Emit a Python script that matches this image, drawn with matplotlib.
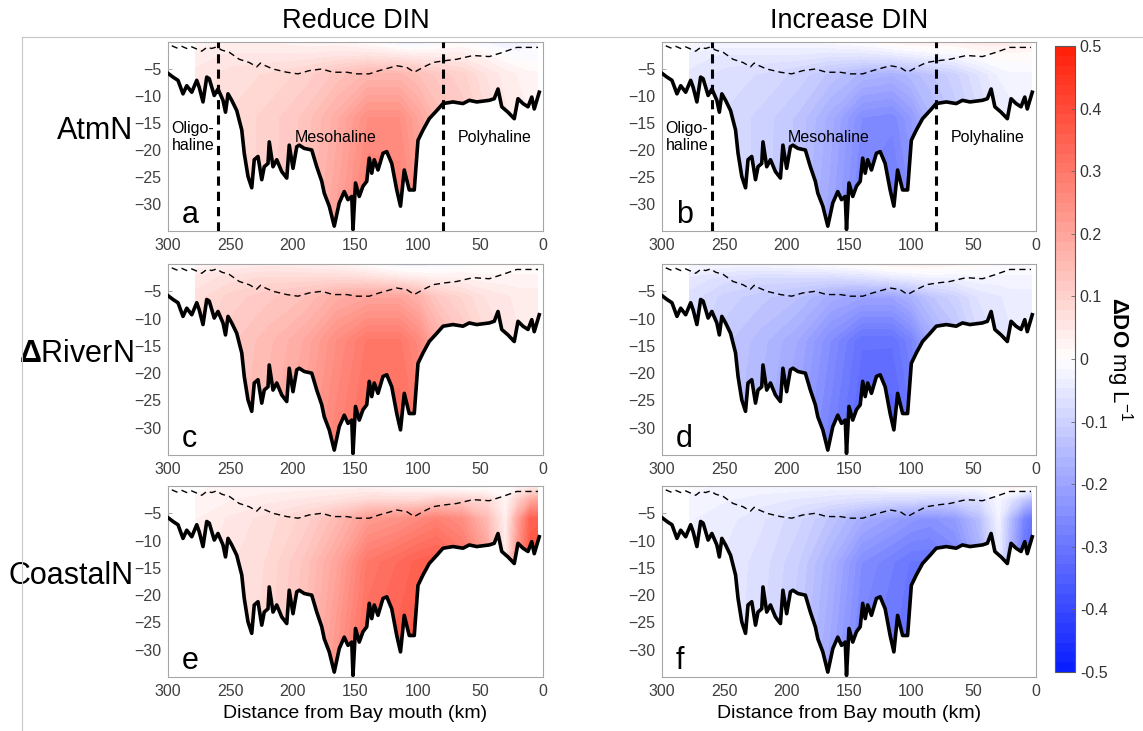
import numpy as np
import matplotlib
matplotlib.use("Agg")
import matplotlib.pyplot as plt
from matplotlib.colors import LinearSegmentedColormap, Normalize
from matplotlib.cm import ScalarMappable
from matplotlib.lines import Line2D

plt.rcParams['font.family'] = ['Liberation Sans', 'DejaVu Sans']
plt.rcParams['mathtext.fontset'] = 'custom'
plt.rcParams['mathtext.rm'] = 'Liberation Sans'
plt.rcParams['mathtext.bf'] = 'Liberation Sans:bold'

# bathymetry along the channel (km from mouth, m)
bathy_km = [300, 296, 292, 288, 285, 281, 277, 275, 272, 269, 267, 263, 260, 256, 254, 252,
            249, 245, 241, 239, 236, 233, 231, 228, 225, 223, 220, 219, 216, 213, 209, 205,
            203, 200, 197, 195, 191, 185, 181, 177, 175, 171, 167, 163, 159, 156, 153, 152,
            150, 147, 144, 141, 139, 137, 135, 132, 128, 125, 121, 117, 114, 111, 107, 103,
            100, 96, 91, 85, 80, 72, 64, 59, 53, 43, 39, 36, 33, 28, 23, 20, 16, 12, 9, 7, 3]
bathy_m = [-5.8, -6.5, -7.1, -9.6, -8.1, -9.3, -7.1, -8.4, -11.1, -6.5, -6.8, -9.9, -8.7, -10.8,
           -13.0, -9.6, -10.8, -12.7, -16.3, -20.6, -24.9, -27.0, -21.8, -21.2, -25.5, -23.1,
           -22.5, -18.5, -23.1, -21.8, -24.0, -25.2, -19.1, -23.4, -19.4, -19.1, -19.7, -20.0,
           -23.1, -25.8, -28.0, -30.4, -34.1, -29.8, -27.7, -29.2, -28.6, -34.7, -26.1, -28.6,
           -26.7, -25.8, -21.5, -24.3, -21.8, -23.7, -20.6, -20.3, -22.5, -27.4, -30.4, -23.7,
           -27.4, -27.4, -18.2, -16.3, -14.2, -12.7, -11.4, -11.1, -11.4, -10.8, -11.1, -10.8,
           -10.5, -8.7, -12.0, -13.0, -14.2, -10.5, -11.4, -12.0, -10.2, -12.4, -9.3]

# pycnocline depth
pyc_km = [297, 293, 289, 285, 281, 277, 273, 269, 265, 261, 257, 251, 243, 235, 229, 226,
          223, 216, 205, 196, 187, 177, 168, 157, 149, 139, 131, 117, 109, 103, 96, 88, 80,
          69, 56, 43, 32, 21, 4]
pyc_m = [-0.7, -1.1, -0.8, -1.2, -0.9, -1.3, -1.7, -1.0, -1.2, -0.9, -1.5, -1.9, -3.2, -3.8,
         -4.6, -3.9, -4.3, -5.0, -5.6, -5.9, -5.3, -5.0, -5.6, -5.6, -5.9, -5.9, -5.3, -4.4,
         -4.7, -5.6, -4.7, -3.8, -3.5, -3.2, -2.5, -2.7, -1.9, -1.0, -1.0]

# ΔDO grid: stations along channel x depth levels
grid_km = [278, 250, 220, 190, 165, 140, 115, 100, 85, 65, 45, 30, 20, 10, 4]
grid_m = [0, -2.5, -6, -14, -35]

ddo_atm_reduce = [
    [0.02, 0.03, 0.03, 0.02, 0.02, 0.00, -0.03, -0.03, -0.02, 0.00, -0.02, -0.03, -0.03, -0.02, -0.02],
    [0.04, 0.05, 0.05, 0.05, 0.06, 0.06, 0.05, 0.04, 0.04, 0.04, 0.02, 0.00, -0.01, -0.01, -0.01],
    [0.05, 0.07, 0.08, 0.10, 0.13, 0.16, 0.16, 0.14, 0.12, 0.10, 0.06, 0.04, 0.03, 0.02, 0.02],
    [0.05, 0.08, 0.10, 0.13, 0.18, 0.25, 0.25, 0.20, 0.15, 0.12, 0.08, 0.05, 0.04, 0.03, 0.03],
    [0.05, 0.08, 0.10, 0.14, 0.21, 0.30, 0.29, 0.24, 0.20, 0.15, 0.10, 0.06, 0.05, 0.04, 0.04],
]
ddo_atm_increase = [
    [-0.01, -0.02, -0.02, -0.02, -0.01, 0.00, 0.02, 0.03, 0.03, 0.03, 0.04, 0.04, 0.04, 0.03, 0.03],
    [-0.04, -0.05, -0.05, -0.05, -0.06, -0.06, -0.05, -0.04, -0.03, -0.02, 0.00, 0.01, 0.01, 0.01, 0.01],
    [-0.05, -0.07, -0.08, -0.10, -0.13, -0.16, -0.17, -0.15, -0.13, -0.10, -0.06, -0.03, -0.02, -0.02, -0.02],
    [-0.06, -0.08, -0.10, -0.13, -0.18, -0.25, -0.26, -0.22, -0.16, -0.12, -0.08, -0.05, -0.04, -0.04, -0.04],
    [-0.06, -0.08, -0.10, -0.14, -0.20, -0.28, -0.30, -0.26, -0.20, -0.15, -0.10, -0.06, -0.05, -0.05, -0.05],
]
ddo_river_reduce = [
    [0.02, 0.03, 0.04, 0.03, 0.02, 0.00, -0.03, -0.03, -0.02, -0.01, 0.00, 0.00, 0.00, 0.00, 0.00],
    [0.05, 0.07, 0.08, 0.08, 0.08, 0.07, 0.05, 0.04, 0.03, 0.03, 0.02, 0.02, 0.02, 0.02, 0.02],
    [0.07, 0.10, 0.12, 0.14, 0.18, 0.20, 0.20, 0.17, 0.12, 0.09, 0.06, 0.05, 0.04, 0.04, 0.04],
    [0.08, 0.12, 0.15, 0.19, 0.25, 0.30, 0.30, 0.26, 0.18, 0.13, 0.08, 0.06, 0.05, 0.05, 0.05],
    [0.08, 0.13, 0.17, 0.22, 0.28, 0.33, 0.33, 0.30, 0.22, 0.16, 0.10, 0.07, 0.06, 0.06, 0.06],
]
ddo_river_increase = [
    [-0.01, -0.02, -0.02, -0.01, 0.00, 0.01, 0.03, 0.03, 0.03, 0.02, 0.01, 0.00, 0.00, 0.00, 0.00],
    [-0.05, -0.07, -0.08, -0.08, -0.08, -0.07, -0.05, -0.04, -0.03, -0.03, -0.02, -0.02, -0.02, -0.02, -0.02],
    [-0.07, -0.10, -0.12, -0.14, -0.18, -0.20, -0.20, -0.17, -0.13, -0.10, -0.06, -0.05, -0.04, -0.04, -0.04],
    [-0.08, -0.12, -0.15, -0.19, -0.25, -0.31, -0.31, -0.27, -0.19, -0.14, -0.08, -0.06, -0.05, -0.05, -0.05],
    [-0.08, -0.13, -0.17, -0.22, -0.28, -0.34, -0.35, -0.31, -0.23, -0.17, -0.10, -0.07, -0.06, -0.06, -0.06],
]
ddo_coastal_reduce = [
    [0.01, 0.02, 0.02, 0.02, 0.02, 0.02, 0.00, 0.00, -0.01, -0.02, -0.02, 0.00, 0.02, 0.03, 0.03],
    [0.02, 0.03, 0.04, 0.05, 0.06, 0.08, 0.08, 0.08, 0.10, 0.10, 0.08, 0.02, 0.10, 0.18, 0.20],
    [0.03, 0.05, 0.07, 0.10, 0.15, 0.22, 0.24, 0.26, 0.28, 0.25, 0.15, 0.03, 0.20, 0.35, 0.35],
    [0.03, 0.06, 0.08, 0.13, 0.20, 0.30, 0.33, 0.35, 0.36, 0.32, 0.22, 0.04, 0.25, 0.38, 0.40],
    [0.03, 0.06, 0.09, 0.15, 0.24, 0.34, 0.36, 0.38, 0.38, 0.35, 0.26, 0.05, 0.26, 0.40, 0.40],
]
ddo_coastal_increase = [
    [-0.01, -0.02, -0.02, -0.02, -0.02, -0.02, 0.00, 0.00, 0.00, 0.00, 0.00, 0.01, 0.03, 0.03, 0.02],
    [-0.02, -0.03, -0.04, -0.05, -0.06, -0.07, -0.08, -0.08, -0.09, -0.09, -0.07, -0.02, -0.06, -0.12, -0.15],
    [-0.03, -0.04, -0.06, -0.09, -0.13, -0.18, -0.21, -0.23, -0.24, -0.22, -0.14, -0.03, -0.15, -0.27, -0.30],
    [-0.03, -0.05, -0.07, -0.11, -0.17, -0.25, -0.28, -0.30, -0.30, -0.27, -0.18, -0.04, -0.18, -0.31, -0.35],
    [-0.03, -0.05, -0.08, -0.13, -0.20, -0.28, -0.30, -0.32, -0.32, -0.30, -0.20, -0.05, -0.20, -0.33, -0.35],
]

row_names = ['AtmN', r'$\mathbf{\Delta}$RiverN', 'CoastalN']
col_titles = ['Reduce DIN', 'Increase DIN']
panel_letters = [['a', 'b'], ['c', 'd'], ['e', 'f']]
fields = [[ddo_atm_reduce, ddo_atm_increase],
          [ddo_river_reduce, ddo_river_increase],
          [ddo_coastal_reduce, ddo_coastal_increase]]

zone_edges_km = [260, 80]
x_ticks = [300, 250, 200, 150, 100, 50, 0]
y_ticks = [-30, -25, -20, -15, -10, -5]
cb_ticks = [-0.5, -0.4, -0.3, -0.2, -0.1, 0, 0.1, 0.2, 0.3, 0.4, 0.5]

cmap = LinearSegmentedColormap.from_list(
    'bwr_do', [(0.04, 0.12, 1.0), (1, 1, 1), (1.0, 0.13, 0.04)], N=64)
norm = Normalize(-0.5, 0.5)
levels = np.linspace(-0.5, 0.5, 65)

W, H = 1143, 731
fig = plt.figure(figsize=(W / 100, H / 100), dpi=100)


def px_axes(l, t, r, b):
    return fig.add_axes([l / W, 1 - b / H, (r - l) / W, (b - t) / H])


# frame lines around the figure
fig.add_artist(Line2D([22 / W, 22 / W], [0, 1 - 37 / H], transform=fig.transFigure,
                      color='0.78', lw=0.8))
fig.add_artist(Line2D([22 / W, 1], [1 - 37 / H, 1 - 37 / H], transform=fig.transFigure,
                      color='0.78', lw=0.8))

col_x = [(168, 543), (662, 1036)]
row_y = [(42, 231), (264, 455), (486, 677)]
X, Y = np.meshgrid(grid_km, grid_m)

for i in range(3):
    for j in range(2):
        ax = px_axes(col_x[j][0], row_y[i][0], col_x[j][1], row_y[i][1])
        Z = np.array(fields[i][j])
        ax.contourf(X, Y, Z, levels=levels, cmap=cmap, norm=norm, zorder=1)
        # hide everything below the channel bottom
        ax.fill_between(bathy_km, bathy_m, -40, color='white', lw=0, zorder=2)
        ax.plot(bathy_km, bathy_m, color='black', lw=2.6, zorder=4,
                solid_joinstyle='round')
        ax.plot(pyc_km, pyc_m, color='black', lw=1.0, dashes=(4.5, 3), zorder=4)
        ax.set_xlim(300, 0)
        ax.set_ylim(-35, 0)
        ax.set_xticks(x_ticks)
        ax.set_yticks(y_ticks)
        ax.tick_params(direction='in', length=3, width=0.6, colors='0.6',
                       labelcolor='0.25', labelsize=11.5, pad=5)
        for sp in ax.spines.values():
            sp.set_color('0.65')
            sp.set_linewidth(0.8)
        ax.text(289, -32, panel_letters[i][j], fontsize=22, ha='left', va='center',
                zorder=5)
        if i == 0:
            for zx in zone_edges_km:
                ax.axvline(zx, color='black', lw=2.2, dashes=(3, 2), zorder=5)
            ax.text(297, -17.6, 'Oligo-\nhaline', fontsize=11.5, ha='left',
                    va='center', linespacing=1.1, zorder=5)
            ax.text(166, -17.7, 'Mesohaline', fontsize=11.5, ha='center',
                    va='center', zorder=5)
            ax.text(39, -17.6, 'Polyhaline', fontsize=11.5, ha='center',
                    va='center', zorder=5)
            ax.set_title(col_titles[j], fontsize=19.5, pad=10)
        if j == 0:
            ax.text(-0.093, 0.53, row_names[i], transform=ax.transAxes, fontsize=22,
                    ha='right', va='center')
        if i == 2:
            ax.set_xlabel('Distance from Bay mouth (km)', fontsize=14, labelpad=4)

cax = px_axes(1055, 46, 1075, 672)
cb = fig.colorbar(ScalarMappable(norm=norm, cmap=cmap), cax=cax)
cb.set_ticks(cb_ticks)
cb.set_ticklabels([str(t) for t in cb_ticks])
cb.ax.tick_params(direction='in', length=3, width=0.6, colors='0.4',
                  labelcolor='0.2', labelsize=11.5)
cb.outline.set_edgecolor('0.35')
cb.outline.set_linewidth(0.8)
cb.set_label(r'$\mathbf{\Delta DO}$ mg L$^{-1}$', rotation=270, fontsize=16,
             labelpad=20)

fig.savefig('out.png', dpi=100)
